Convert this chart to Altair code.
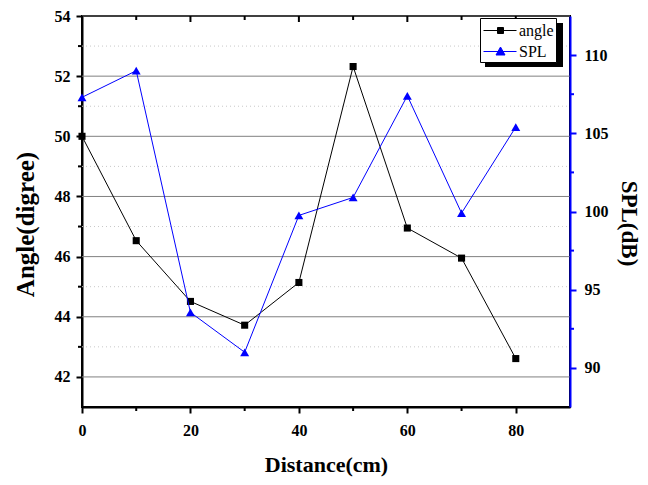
import altair as alt
import pandas as pd

# ---- data ----
distance = [0, 10, 20, 30, 40, 50, 60, 70, 80]
angle = [50.0, 46.53, 44.51, 43.72, 45.14, 52.32, 46.95, 45.95, 42.61]
spl = [107.3, 109.0, 93.55, 91.0, 99.75, 100.9, 107.4, 99.9, 105.4]

x_major = [0, 20, 40, 60, 80]
x_minor = [10, 30, 50, 70]
left_major = [42, 44, 46, 48, 50, 52, 54]
left_minor = [43, 45, 47, 49, 51, 53]
right_major = [90, 95, 100, 105, 110]
right_minor = [92.5, 97.5, 102.5, 107.5]
series = ["angle", "SPL"]
colors = ["black", "#0000ff"]

W, H = 488, 391
TOP = 8
SERIF = "Liberation Serif"
BLUE = "#0000ff"

df_angle = pd.DataFrame({"Distance": distance, "angle": angle})
df_spl = pd.DataFrame({"Distance": distance, "SPL": spl})
df_xmaj = pd.DataFrame({"Distance": x_major})
df_xmin = pd.DataFrame({"Distance": x_minor})
df_lmaj = pd.DataFrame({"angle": left_major})
df_lmin = pd.DataFrame({"angle": left_minor})
df_rmin = pd.DataFrame({"SPL": right_minor})
df_leg = pd.DataFrame({"series": series})
df_one = pd.DataFrame({"k": [0]})

x_axis = alt.Axis(
    values=x_major, title="Distance(cm)", grid=False, labelFlush=False,
    domainColor="black", domainWidth=2, tickColor="black", tickWidth=2, tickSize=6,
    labelFont=SERIF, labelFontWeight="bold", labelFontSize=16, labelColor="black",
    labelPadding=9, titleFont=SERIF, titleFontSize=22, titleFontWeight="bold",
    titleColor="black", titlePadding=16,
)
left_axis = alt.Axis(
    orient="left", values=left_major, title="Angle(digree)", grid=False,
    domainColor="black", domainWidth=2, tickColor="black", tickWidth=2, tickSize=6,
    labelFont=SERIF, labelFontWeight="bold", labelFontSize=16, labelColor="black",
    labelPadding=6, titleFont=SERIF, titleFontSize=25, titleFontWeight="bold",
    titleColor="black", titlePadding=16, titleY=208,
)
right_axis = alt.Axis(
    orient="right", values=right_major, title="SPL(dB)", grid=False, zindex=1,
    domainColor=BLUE, domainWidth=2, tickColor=BLUE, tickWidth=2, tickSize=6,
    labelFont=SERIF, labelFontWeight="bold", labelFontSize=16, labelColor="black",
    labelPadding=8, titleFont=SERIF, titleFontSize=23, titleFontWeight="bold",
    titleColor="black", titlePadding=8, titleY=207,
)


def X():
    return alt.X("Distance", type="quantitative",
                 scale=alt.Scale(domain=[0, 90], nice=False, zero=False), axis=x_axis)


def YL():
    return alt.Y("angle", type="quantitative",
                 scale=alt.Scale(domain=[41, 54], nice=False, zero=False), axis=left_axis)


def YR():
    return alt.Y("SPL", type="quantitative",
                 scale=alt.Scale(domain=[87.5, 112.5], nice=False, zero=False), axis=right_axis)


# ---- left-scale group ----
grid_major = alt.Chart(df_lmaj).mark_rule(color="#808080", strokeWidth=1).encode(
    y=YL(), x=alt.value(0), x2=alt.value(W),
)
grid_minor = alt.Chart(df_lmin).mark_rule(color="#c8c8c8", strokeWidth=1, strokeDash=[1, 3]).encode(
    y=YL(), x=alt.value(0), x2=alt.value(W),
)
left_minor_ticks = alt.Chart(df_lmin).mark_rule(color="black", strokeWidth=2).encode(
    y=YL(), x=alt.value(-4), x2=alt.value(0),
)
bottom_minor_ticks = alt.Chart(df_xmin).mark_rule(color="black", strokeWidth=2).encode(
    x=X(), y=alt.value(H), y2=alt.value(H + 4),
)
top_major_ticks = alt.Chart(df_xmaj).mark_rule(color="black", strokeWidth=2).encode(
    x=X(), y=alt.value(0), y2=alt.value(6),
)
top_minor_ticks = alt.Chart(df_xmin).mark_rule(color="black", strokeWidth=2).encode(
    x=X(), y=alt.value(0), y2=alt.value(4),
)
angle_line = alt.Chart(df_angle).mark_line(color="black", strokeWidth=1).encode(
    x=X(), y=YL(),
)
angle_pts = alt.Chart(df_angle).mark_point(shape="square", filled=True, color="black", size=50, opacity=1).encode(
    x=X(), y=YL(),
)
left_group = alt.layer(grid_major, grid_minor, left_minor_ticks, bottom_minor_ticks,
                       top_major_ticks, top_minor_ticks, angle_line, angle_pts)

# ---- right-scale group ----
right_minor_ticks = alt.Chart(df_rmin).mark_rule(color=BLUE, strokeWidth=2).encode(
    y=YR(), x=alt.value(W), x2=alt.value(W + 4),
)
spl_line = alt.Chart(df_spl).mark_line(color=BLUE, strokeWidth=1).encode(
    x=X(), y=YR(),
)
spl_pts = alt.Chart(df_spl).mark_point(shape="triangle-up", filled=True, color=BLUE, size=80, opacity=1).encode(
    x=X(), y=YR(),
)
right_group = alt.layer(right_minor_ticks, spl_line, spl_pts)

# ---- legend (built by the library from an empty layer) ----
LEG_X, LEG_Y = 398, 2
leg = alt.Legend(
    title=None, orient="none", legendX=LEG_X, legendY=LEG_Y, direction="vertical",
    fillColor="white", strokeColor="black", padding=2, cornerRadius=0,
    labelFont=SERIF, labelFontSize=16, labelColor="black", labelOffset=16,
    symbolSize=400, symbolStrokeWidth=1, rowPadding=2,
)
shapes = [
    "M-0.9,0H2.4M0.5,-0.3H1.1V0.3H0.5Z",
    "M-0.9,0H2.4M0.8,-0.45L1.25,0.35H0.35Z",
]
legend_layer = alt.Chart(df_leg).mark_point(filled=True, size=400, strokeWidth=1, opacity=1).encode(
    fill=alt.Fill("series", type="nominal", scale=alt.Scale(domain=series, range=colors), legend=leg),
    stroke=alt.Stroke("series", type="nominal", scale=alt.Scale(domain=series, range=colors), legend=leg),
    shape=alt.Shape("series", type="nominal", scale=alt.Scale(domain=series, range=shapes), legend=leg),
).transform_filter("false")

# drop shadow behind the legend box
shadow = alt.Chart(df_one).mark_rect(color="black", opacity=1).encode(
    x=alt.value(LEG_X + 5), x2=alt.value(LEG_X + 83),
    y=alt.value(LEG_Y + 5), y2=alt.value(LEG_Y + 49),
)

chart = alt.layer(left_group, right_group, shadow, legend_layer).resolve_scale(
    y="independent"
).properties(
    width=W, height=H,
    autosize=alt.AutoSizeParams(type="none"),
    padding={"left": 74, "top": TOP, "right": 70, "bottom": 70},
    background="white",
).configure_view(
    stroke="black", strokeWidth=2
).configure_legend(
    strokeWidth=1
)

chart.save("out.html", embed_options={"renderer": "svg", "actions": False})
